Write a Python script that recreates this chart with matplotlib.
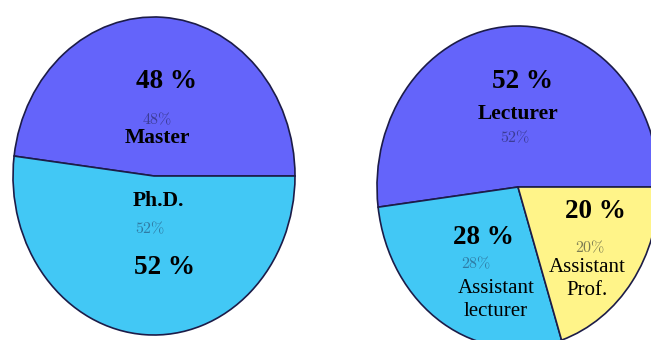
import matplotlib
matplotlib.use("Agg")
import matplotlib.pyplot as plt

plt.rcParams['mathtext.fontset'] = 'cm'

# Data
left_labels = ["Master", "Ph.D."]
left_values = [48, 52]
right_labels = ["Lecturer", "Assistant\nlecturer", "Assistant\nProf."]
right_values = [52, 28, 20]

PURPLE = "#6464FA"
BLUE = "#42C8F5"
YELLOW = "#FFF489"
EDGE = "#1c1c48"

W, H = 651, 340
fig = plt.figure(figsize=(W / 100, H / 100), dpi=100)
fig.patch.set_facecolor("white")


def add_pie_axes(x0, x1, y0, y1):
    ax = fig.add_axes([x0 / W, 1 - y1 / H, (x1 - x0) / W, (y1 - y0) / H])
    return ax


def finish(ax):
    ax.set_xlim(-1, 1)
    ax.set_ylim(-1, 1)
    ax.set_aspect("auto")
    ax.axis("off")


axL = add_pie_axes(13, 295, 17, 335)
axL.pie(left_values, colors=[PURPLE, BLUE], startangle=0, counterclock=True,
        radius=1, frame=True,
        wedgeprops=dict(edgecolor=EDGE, linewidth=1.2))
finish(axL)

axR = add_pie_axes(377, 659, 26, 348)
axR.pie(right_values, colors=[PURPLE, BLUE, YELLOW], startangle=0, counterclock=True,
        radius=1, frame=True,
        wedgeprops=dict(edgecolor=EDGE, linewidth=1.2))
finish(axR)


def txt(x, y, s, **kw):
    fig.text(x / W, 1 - y / H, s, ha="center", va="center", **kw)


big = dict(fontsize=19.5, fontweight="bold", family="Liberation Serif", color="black")
name_b = dict(fontsize=15.5, fontweight="bold", family="Liberation Serif", color="black")
name_r = dict(fontsize=15, family="Liberation Serif", color="black", linespacing=1.3)
small = dict(fontsize=11.5)

# Left pie texts
txt(167, 82, f"{left_values[0]} %", **big)
txt(157, 119, rf"${left_values[0]}\%$", color="#3C3C96", **small)
txt(157, 138, left_labels[0], **name_b)
txt(158, 201, left_labels[1], **name_b)
txt(150, 228, rf"${left_values[1]}\%$", color="#2F7BA4", **small)
txt(164, 268, f"{left_values[1]} %", **big)

# Right pie texts
txt(522, 81, f"{right_values[0]} %", **big)
txt(518, 114, right_labels[0], **name_b)
txt(515, 137, rf"${right_values[0]}\%$", color="#3C3C96", **small)

txt(483, 237, f"{right_values[1]} %", **big)
txt(476, 263, rf"${right_values[1]}\%$", color="#2F7BA4", **small)
txt(496, 300, right_labels[1], **name_r)

txt(595, 212, f"{right_values[2]} %", **big)
txt(590, 247, rf"${right_values[2]}\%$", color="#7C7C52", **small)
txt(587, 279, right_labels[2], **name_r)

fig.savefig("out.png", dpi=100)
